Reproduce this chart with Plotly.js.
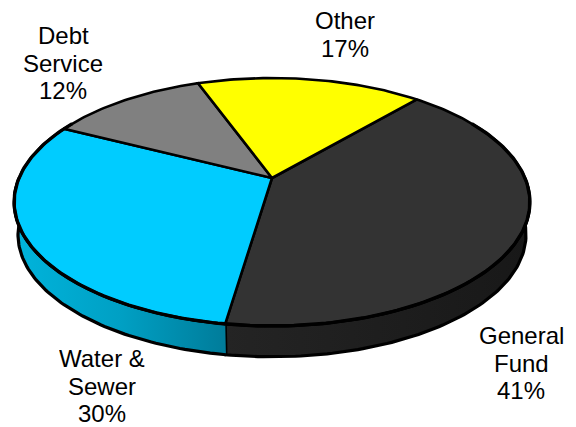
<!DOCTYPE html>
<html>
<head>
<meta charset="utf-8">
<script src="https://cdn.plot.ly/plotly-3.0.1.min.js"></script>
<style>html,body{margin:0;padding:0;background:#fff}#chart{width:576px;height:427px}</style>
</head>
<body>
<div id="chart"></div>
<script>
// Budget share by fund
const categories = ["General Fund", "Water & Sewer", "Debt Service", "Other"];
const labelLines = [["General", "Fund"], ["Water &", "Sewer"], ["Debt", "Service"], ["Other"]];
const shares = [41, 30, 12, 17];
const topColors = ["#333333", "#00ccff", "#808080", "#ffff00"];

// Projection of the tilted disc onto the drawing plane
const view = {cx: 272, cy: 178, r: 253, tilt: 119.35, persp: 0.1935, drop: 33, shrink: 0.985};
const firstAngle = 41;

function rim(deg, lower) {
  const a = deg * Math.PI / 180;
  const u = Math.sin(a), v = -Math.cos(a);
  const d = 1 - view.persp * v;
  let x = view.r * u / d, y = view.tilt * v / d;
  if (lower) { x *= view.shrink; y = y * view.shrink + view.drop; }
  return [view.cx + x, view.cy + y];
}
function arc(from, to, lower) {
  const n = Math.max(2, Math.ceil(Math.abs(to - from)));
  const pts = [];
  for (let i = 0; i <= n; i++) pts.push(rim(from + (to - from) * i / n, lower));
  return pts;
}
function poly(pts, extra) {
  return Object.assign({
    type: "scatter", mode: "lines", fill: "toself", hoverinfo: "skip", showlegend: false,
    x: pts.map(p => p[0]), y: pts.map(p => p[1]),
    line: {color: "#000", width: 2.6}
  }, extra);
}

// Slice boundaries, clockwise from the first angle
const total = shares.reduce((s, v) => s + v, 0);
const edges = [firstAngle];
shares.forEach(v => edges.push(edges[edges.length - 1] + v / total * 360));

// Side wall: only the front half is visible
const wallSplit = edges[1];
const wallDark = arc(90, wallSplit, false).concat(arc(wallSplit, 90, true));
const wallBlue = arc(wallSplit, 270, false).concat(arc(270, wallSplit, true));
const traces = [
  poly(wallDark, {fillgradient: {type: "horizontal", colorscale: [[0, "#242424"], [1, "#181818"]]}, name: categories[0], line: {color: "#000", width: 3.2}}),
  poly(wallBlue, {fillgradient: {type: "horizontal", colorscale: [[0, "#00b4dc"], [0.5, "#00a0c4"], [1, "#007c9a"]]}, name: categories[1], line: {color: "#000", width: 3.2}})
];

// Top face
shares.forEach((v, i) => {
  const pts = [[view.cx, view.cy]].concat(arc(edges[i], edges[i + 1], false));
  pts.push([view.cx, view.cy]);
  traces.push(poly(pts, {fillcolor: topColors[i], name: categories[i]}));
});

// Heavier outline round the front of the top face
const frontRim = arc(60, 300, false);
traces.push({
  type: "scatter", mode: "lines", hoverinfo: "skip", showlegend: false,
  x: frontRim.map(p => p[0]), y: frontRim.map(p => p[1]),
  line: {color: "#000", width: 3.4}
});

// Slice labels, one annotation per line for tight leading
const labelFirstLine = [[521, 335], [102, 358], [63, 35], [345, 20]];
const leading = 27.5;
const annotations = [];
labelFirstLine.forEach((p, i) => {
  labelLines[i].concat(shares[i] + "%").forEach((line, k) => {
    annotations.push({
      x: p[0], y: p[1] + k * leading, xref: "x", yref: "y", showarrow: false,
      xanchor: "center", yanchor: "middle", align: "center", text: line, height: 24,
      font: {family: "Liberation Sans, Arial, sans-serif", size: 24, color: "#000"}
    });
  });
});

const hidden = {visible: false, fixedrange: true};
Plotly.newPlot("chart", traces, {
  width: 576, height: 427,
  margin: {l: 0, r: 0, t: 0, b: 0},
  paper_bgcolor: "#fff", plot_bgcolor: "#fff",
  showlegend: false,
  xaxis: Object.assign({range: [0, 576]}, hidden),
  yaxis: Object.assign({range: [427, 0]}, hidden),
  annotations
}, {displayModeBar: false, staticPlot: true});
</script>
</body>
</html>
